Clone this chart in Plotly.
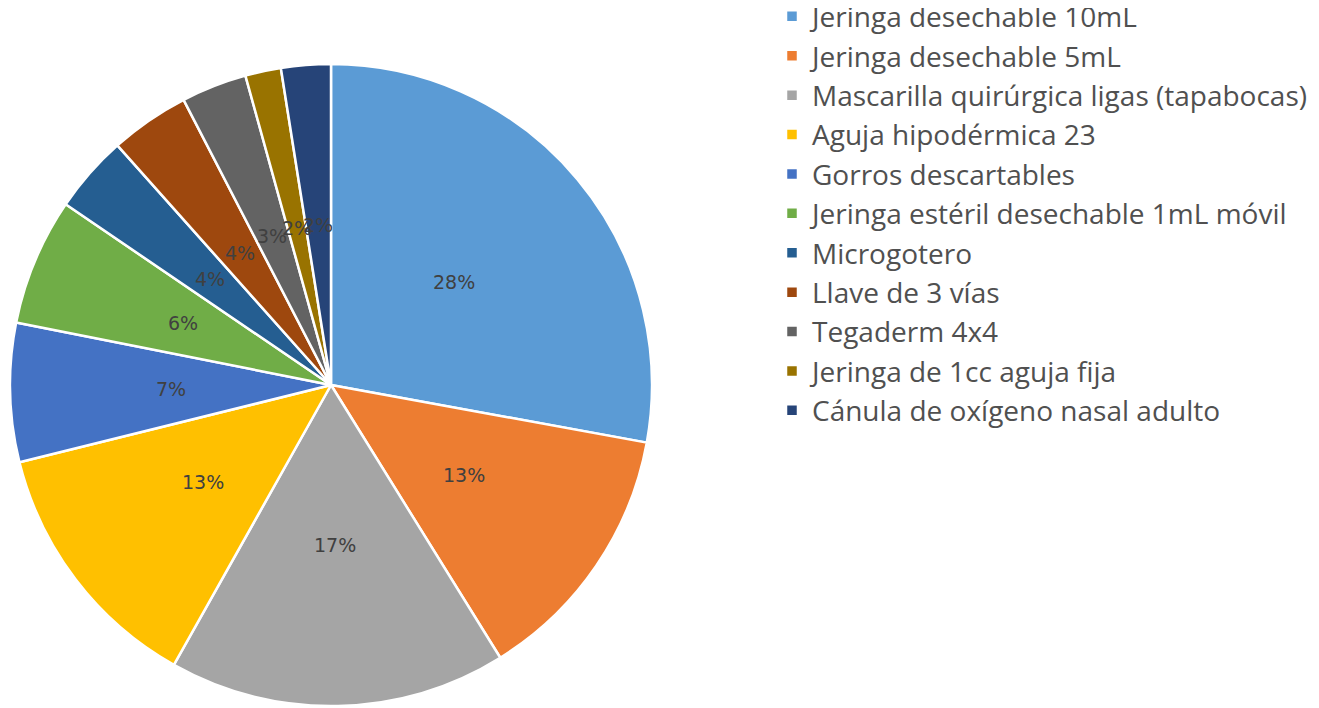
import math
import plotly.graph_objects as go

categories = [
    "Jeringa desechable 10mL",
    "Jeringa desechable 5mL",
    "Mascarilla quirúrgica ligas (tapabocas)",
    "Aguja hipodérmica 23",
    "Gorros descartables",
    "Jeringa estéril desechable 1mL móvil",
    "Microgotero",
    "Llave de 3 vías",
    "Tegaderm 4x4",
    "Jeringa de 1cc aguja fija",
    "Cánula de oxígeno nasal adulto",
]
values = [27.9, 13.3, 17.0, 13.0, 7.0, 6.4, 3.9, 4.0, 3.3, 1.8, 2.5]
colors = ["#5B9BD5", "#ED7D31", "#A5A5A5", "#FFC000", "#4472C4", "#70AD47",
          "#255E91", "#9E480E", "#636363", "#997300", "#264478"]

W, H = 1319, 708
# pie geometry in figure pixels
CX, CY, R = 323, 377, 321

fig = go.Figure(go.Pie(
    labels=categories,
    values=values,
    sort=False,
    direction="clockwise",
    rotation=0,
    marker=dict(colors=colors, line=dict(color="white", width=2.5)),
    textinfo="none",
    domain=dict(x=[(CX - R) / W, (CX + R) / W],
                y=[(H - CY - R) / H, (H - CY + R) / H]),
))

# data labels at half radius, at each slice's mid-angle (derived from values)
total = sum(values)
cum = 0.0
for v in values:
    mid = (cum + v / 2) / total * 2 * math.pi
    cum += v
    px = CX + 0.5 * R * math.sin(mid)
    py = CY - 0.5 * R * math.cos(mid)
    fig.add_annotation(
        x=px / W, y=(H - py) / H, xref="paper", yref="paper",
        text=f"{round(v / total * 100)}%", showarrow=False,
        xanchor="center", yanchor="middle",
        font=dict(family="DejaVu Sans", size=19, color="#404040"),
    )

fig.update_layout(
    width=W, height=H,
    margin=dict(l=0, r=0, t=0, b=0, autoexpand=False),
    paper_bgcolor="white",
    legend=dict(x=764 / W, y=0.396, xanchor="left", yanchor="bottom",
                font=dict(family="Open Sans", size=28, color="#505050"),
                itemwidth=30),
)
fig.write_html("out.html")
